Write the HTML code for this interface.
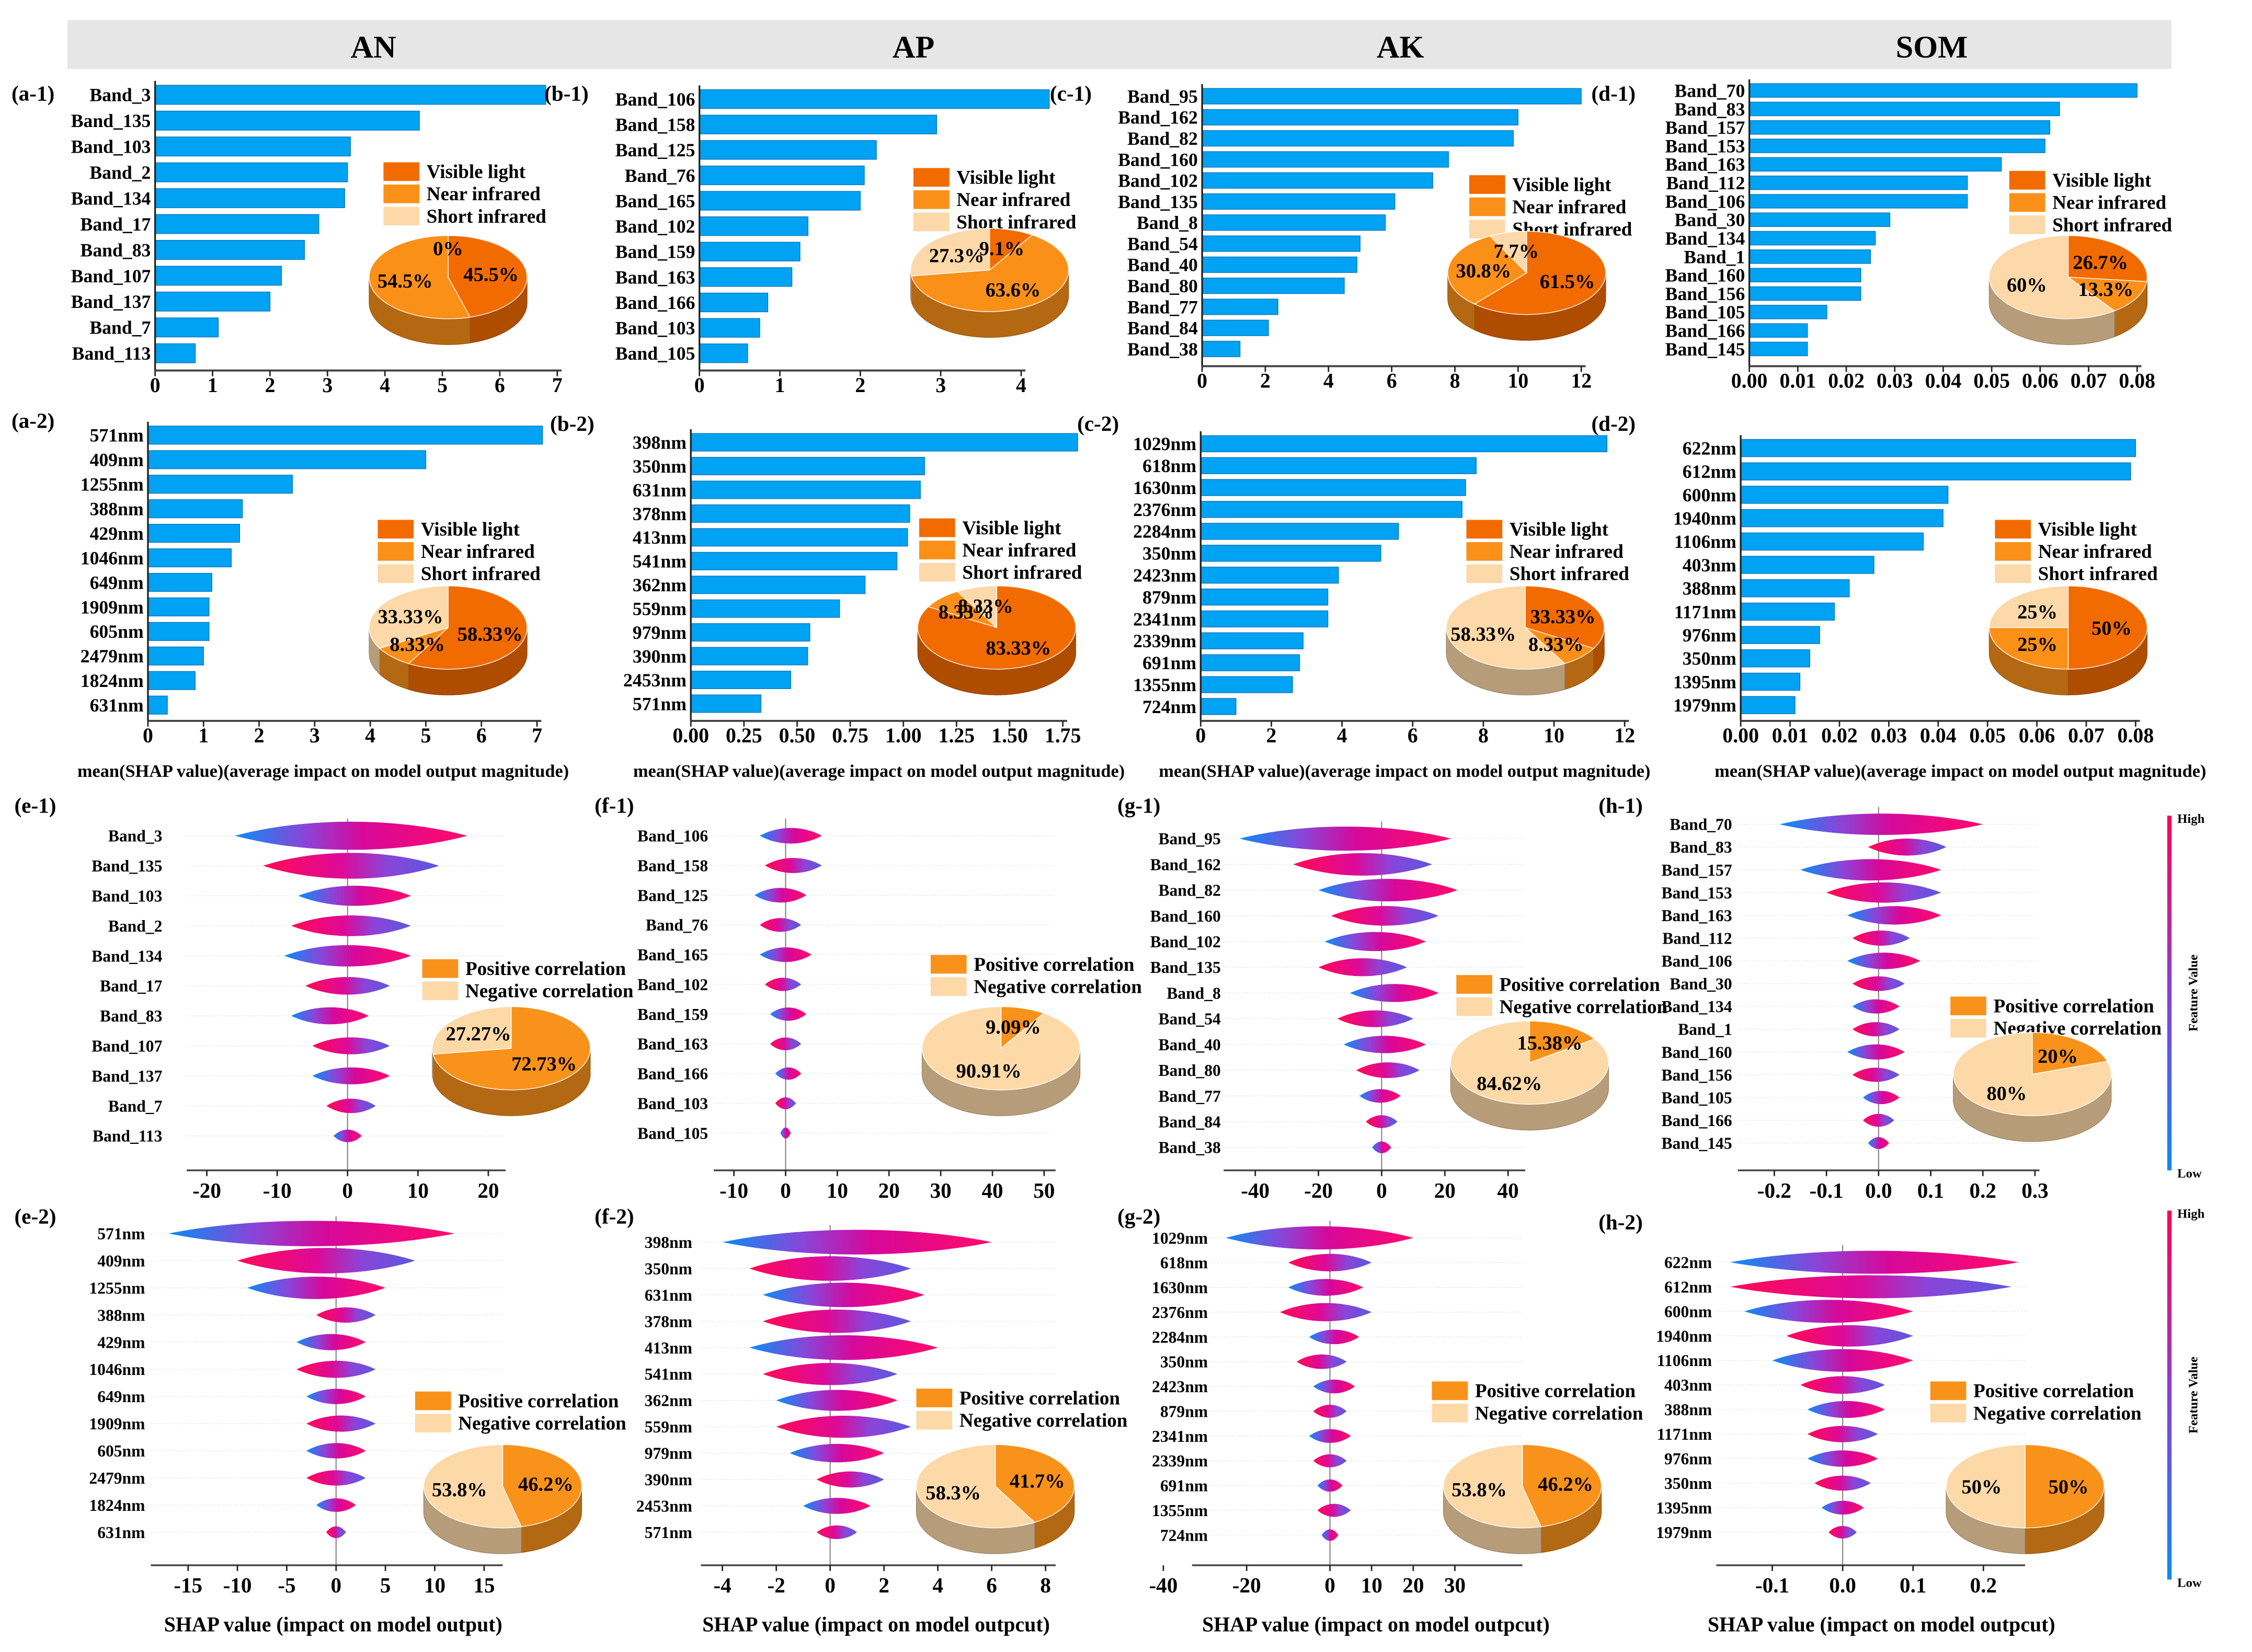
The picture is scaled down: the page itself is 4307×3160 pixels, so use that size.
<!DOCTYPE html>
<html><head><meta charset="utf-8"><style>
html,body{margin:0;padding:0;background:#fff}
svg{display:block}
text{font-family:"Liberation Serif",serif;font-weight:bold;fill:#000}
</style></head><body>
<svg id="fig" width="4307" height="3160" viewBox="0 0 1568 1150.4" xmlns="http://www.w3.org/2000/svg">
<defs>
<linearGradient id="vgA" x1="0" x2="1" y1="0" y2="0"><stop offset="0" stop-color="#0a8cf5"/><stop offset="0.3" stop-color="#8a45d8"/><stop offset="0.55" stop-color="#d6089a"/><stop offset="1" stop-color="#ff0a6a"/></linearGradient>
<linearGradient id="vgB" x1="0" x2="1" y1="0" y2="0"><stop offset="0" stop-color="#ff0a55"/><stop offset="0.45" stop-color="#dd0a98"/><stop offset="0.7" stop-color="#8a45d8"/><stop offset="1" stop-color="#5a58e0"/></linearGradient>
<linearGradient id="cbar" x1="0" x2="0" y1="0" y2="1"><stop offset="0" stop-color="#ff0055"/><stop offset="0.5" stop-color="#8a3fd0"/><stop offset="1" stop-color="#0a8cf5"/></linearGradient>
</defs>
<rect x="47" y="14" width="1465" height="34" fill="#e6e6e6"/>
<text x="260" y="40" font-size="22" text-anchor="middle">AN</text>
<text x="636" y="40" font-size="22" text-anchor="middle">AP</text>
<text x="975" y="40" font-size="22" text-anchor="middle">AK</text>
<text x="1345" y="40" font-size="22" text-anchor="middle">SOM</text>
</svg>
<script>
// ---------- DATA ----------
const a1Labels=["Band_3","Band_135","Band_103","Band_2","Band_134","Band_17","Band_83","Band_107","Band_137","Band_7","Band_113"];
const a1Values=[6.8,4.6,3.4,3.35,3.3,2.85,2.6,2.2,2.0,1.1,0.7];
const a1Ticks=[0,1,2,3,4,5,6,7];
const a1Pie=[45.5,54.5,0];
const a1PieLabels=["45.5%","54.5%","0%"];
const b1Labels=["Band_106","Band_158","Band_125","Band_76","Band_165","Band_102","Band_159","Band_163","Band_166","Band_103","Band_105"];
const b1Values=[4.35,2.95,2.2,2.05,2.0,1.35,1.25,1.15,0.85,0.75,0.6];
const b1Ticks=[0,1,2,3,4];
const b1Pie=[9.1,63.6,27.3];
const b1PieLabels=["9.1%","63.6%","27.3%"];
const c1Labels=["Band_95","Band_162","Band_82","Band_160","Band_102","Band_135","Band_8","Band_54","Band_40","Band_80","Band_77","Band_84","Band_38"];
const c1Values=[12.0,10.0,9.85,7.8,7.3,6.1,5.8,5.0,4.9,4.5,2.4,2.1,1.2];
const c1Ticks=[0,2,4,6,8,10,12];
const c1Pie=[61.5,30.8,7.7];
const c1PieLabels=["61.5%","30.8%","7.7%"];
const d1Labels=["Band_70","Band_83","Band_157","Band_153","Band_163","Band_112","Band_106","Band_30","Band_134","Band_1","Band_160","Band_156","Band_105","Band_166","Band_145"];
const d1Values=[0.080,0.064,0.062,0.061,0.052,0.045,0.045,0.029,0.026,0.025,0.023,0.023,0.016,0.012,0.012];
const d1Ticks=[0,0.01,0.02,0.03,0.04,0.05,0.06,0.07,0.08];
const d1Pie=[26.7,13.3,60];
const d1PieLabels=["26.7%","13.3%","60%"];
const a2Labels=["571nm","409nm","1255nm","388nm","429nm","1046nm","649nm","1909nm","605nm","2479nm","1824nm","631nm"];
const a2Values=[7.1,5.0,2.6,1.7,1.65,1.5,1.15,1.1,1.1,1.0,0.85,0.35];
const a2Ticks=[0,1,2,3,4,5,6,7];
const a2Pie=[58.33,8.33,33.33];
const a2PieLabels=["58.33%","8.33%","33.33%"];
const b2Labels=["398nm","350nm","631nm","378nm","413nm","541nm","362nm","559nm","979nm","390nm","2453nm","571nm"];
const b2Values=[1.82,1.1,1.08,1.03,1.02,0.97,0.82,0.7,0.56,0.55,0.47,0.33];
const b2Ticks=[0,0.25,0.5,0.75,1.0,1.25,1.5,1.75];
const b2Pie=[83.33,8.33,8.33];
const b2PieLabels=["83.33%","8.33%","8.33%"];
const c2Labels=["1029nm","618nm","1630nm","2376nm","2284nm","350nm","2423nm","879nm","2341nm","2339nm","691nm","1355nm","724nm"];
const c2Values=[11.5,7.8,7.5,7.4,5.6,5.1,3.9,3.6,3.6,2.9,2.8,2.6,1.0];
const c2Ticks=[0,2,4,6,8,10,12];
const c2Pie=[33.33,8.33,58.33];
const c2PieLabels=["33.33%","8.33%","58.33%"];
const d2Labels=["622nm","612nm","600nm","1940nm","1106nm","403nm","388nm","1171nm","976nm","350nm","1395nm","1979nm"];
const d2Values=[0.080,0.079,0.042,0.041,0.037,0.027,0.022,0.019,0.016,0.014,0.012,0.011];
const d2Ticks=[0,0.01,0.02,0.03,0.04,0.05,0.06,0.07,0.08];
const d2Pie=[50,25,25];
const d2PieLabels=["50%","25%","25%"];

const e1Lo=[-16,-12,-7,-8,-9,-6,-8,-5,-5,-3,-2];
const e1Hi=[17,13,9,9,9,6,3,6,6,4,2];
const e1Ticks=[-20,-10,0,10,20];
const e1Pie=[72.73,27.27];
const e1PieLabels=["72.73%","27.27%"];
const f1Lo=[-5,-4,-6,-5,-5,-4,-3,-3,-2,-2,-1];
const f1Hi=[7,7,4,3,5,3,4,3,3,2,1];
const f1Ticks=[-10,0,10,20,30,40,50];
const f1Pie=[9.09,90.91];
const f1PieLabels=["9.09%","90.91%"];
const g1Lo=[-45,-28,-20,-16,-18,-20,-10,-14,-12,-8,-7,-5,-3];
const g1Hi=[22,16,24,18,14,8,18,10,14,12,6,5,3];
const g1Ticks=[-40,-20,0,20,40];
const g1Pie=[15.38,84.62];
const g1PieLabels=["15.38%","84.62%"];
const h1Lo=[-0.19,-0.02,-0.15,-0.1,-0.06,-0.05,-0.06,-0.05,-0.05,-0.05,-0.06,-0.05,-0.03,-0.03,-0.02];
const h1Hi=[0.2,0.13,0.12,0.12,0.12,0.06,0.08,0.05,0.04,0.04,0.05,0.04,0.04,0.03,0.02];
const h1Ticks=[-0.2,-0.1,0,0.1,0.2,0.3];
const h1Pie=[20,80];
const h1PieLabels=["20%","80%"];
const e2Lo=[-17,-10,-9,-2,-4,-4,-3,-3,-3,-3,-2,-1];
const e2Hi=[12,8,5,4,3,4,3,4,3,3,2,1];
const e2Ticks=[-15,-10,-5,0,5,10,15];
const e2Pie=[46.2,53.8];
const e2PieLabels=["46.2%","53.8%"];
const f2Lo=[-4,-3,-2.5,-2.5,-3,-2.5,-2,-2,-1.5,-0.5,-1,-0.5];
const f2Hi=[6,3,3.5,3,4,2.5,2.5,3,2,2,1.5,1];
const f2Ticks=[-4,-2,0,2,4,6,8];
const f2Pie=[41.7,58.3];
const f2PieLabels=["41.7%","58.3%"];
const g2Lo=[-25,-10,-10,-12,-5,-8,-4,-4,-5,-4,-3,-3,-2];
const g2Hi=[20,10,8,10,7,4,6,4,5,4,3,5,2];
const g2Ticks=[-40,-20,0,10,20,30];
const g2Pie=[46.2,53.8];
const g2PieLabels=["46.2%","53.8%"];
const h2Lo=[-0.16,-0.16,-0.14,-0.08,-0.1,-0.06,-0.05,-0.05,-0.05,-0.04,-0.03,-0.02];
const h2Hi=[0.25,0.24,0.1,0.1,0.1,0.06,0.06,0.05,0.05,0.04,0.03,0.02];
const h2Ticks=[-0.1,0,0.1,0.2];
const h2Pie=[50,50];
const h2PieLabels=["50%","50%"];

// ---------- DRAW ----------
const NS="http://www.w3.org/2000/svg";
const svg=document.getElementById("fig");
function mk(tag,attrs,parent,txt){const e=document.createElementNS(NS,tag);for(const k in attrs)e.setAttribute(k,attrs[k]);if(txt!==undefined)e.textContent=txt;(parent||svg).appendChild(e);return e;}
function grp(name){const g=mk("g",{});


return g;}
function txt(g,x,y,s,size,anchor,name){const t=mk("text",{x:x,y:y,"font-size":size,"text-anchor":anchor||"start"},g,s);


return t;}
function shade(hex,f){const n=parseInt(hex.slice(1),16);const r=Math.round(((n>>16)&255)*f),g=Math.round(((n>>8)&255)*f),b=Math.round((n&255)*f);return "rgb("+r+","+g+","+b+")";}
const C3=["#f26b00","#fb9019","#fdd8a8"];
const C2=["#f8921b","#fdd9a8"];

function pie(g,cx,cy,vals,labels,cols){
  const rx=55,ry=29,d=18;const tot=vals.reduce((a,b)=>a+b,0);
  const P=(a,dy)=>[cx+rx*Math.cos(a),cy+ry*Math.sin(a)+(dy||0)];
  let a=-Math.PI/2;const segs=[];
  vals.forEach((v,i)=>{const a1=a+v/tot*2*Math.PI;segs.push([a,a1,i]);a=a1;});
  segs.forEach(([a0,a1,i])=>{const s=Math.max(a0,0),e=Math.min(a1,Math.PI);if(e<=s)return;
    const p0=P(s),p1=P(e),q0=P(s,d),q1=P(e,d);
    const p=mk("path",{d:`M${p0} A${rx} ${ry} 0 0 1 ${p1} L${q1} A${rx} ${ry} 0 0 0 ${q0} Z`,fill:shade(cols[i],0.72),stroke:shade(cols[i],0.6),"stroke-width":0.4},g);
    
    });
  segs.forEach(([a0,a1,i])=>{if(a1-a0<1e-6)return;const p0=P(a0),p1=P(a1);const lg=(a1-a0)>Math.PI?1:0;
    const p=mk("path",{d:`M${cx},${cy} L${p0} A${rx} ${ry} 0 ${lg} 1 ${p1} Z`,fill:cols[i],stroke:"#fff","stroke-width":0.5},g);
    
    });
  segs.forEach(([a0,a1,i])=>{const m=(a0+a1)/2;const r=(a1-a0)<0.01?0.7:0.55;
    txt(g,cx+rx*r*Math.cos(m),cy+ry*r*Math.sin(m)+5,labels[i],14,"middle","pie-label");});
}
function legend(g,x,y,names,cols){names.forEach((n,i)=>{const r=mk("rect",{x:x,y:y+i*15.5-10,width:25,height:13,fill:cols[i]},g);
  
  
  txt(g,x+30,y+i*15.5+1,n,13.5,"start","legend-entry");});}
function fmt(v,dec){return dec?v.toFixed(dec):String(v);}

function barPanel(p){
  const g=grp(p.name);
  const n=p.labels.length,sp=(p.yLast-p.yFirst)/(n-1),bh=sp*0.74;
  const X=v=>p.x0+v*p.ppu, Y=i=>p.yFirst+i*sp;
  p.values.forEach((v,i)=>{const r=mk("rect",{x:X(0),y:Y(i)-bh/2,width:X(v)-X(0),height:bh,fill:"#00a2f4",stroke:"#0d78b8","stroke-width":0.5},g);
    
    
    txt(g,X(0)-3,Y(i)+4.5,p.labels[i],13,"end","y-tick-label");});
  mk("line",{x1:X(0),x2:X(0),y1:Y(0)-bh/2-3,y2:p.axisY,stroke:"#222","stroke-width":1.2},g);
  const last=p.ticks[p.ticks.length-1];
  mk("line",{x1:X(0),x2:X(last)+3,y1:p.axisY,y2:p.axisY,stroke:"#444","stroke-width":1.4},g);
  p.ticks.forEach(t=>{mk("line",{x1:X(t),x2:X(t),y1:p.axisY,y2:p.axisY+4,stroke:"#222","stroke-width":1},g);
    txt(g,X(t),p.axisY+15,fmt(t,p.dec),14.5,"middle","x-tick-label");});
  txt(g,p.tagX,p.tagY,p.tag,15,"start","panel-label");
  legend(g,p.lx,p.ly,["Visible light","Near infrared","Short infrared"],C3);
  pie(g,p.px,p.py,p.pie,p.pieLabels,C3);
}
function violinPanel(p){
  const g=grp(p.name);
  const n=p.labels.length,sp=(p.yLast-p.yFirst)/(n-1);
  const X=v=>p.x0+v*p.ppu, Y=i=>p.yFirst+i*sp;
  p.labels.forEach((l,i)=>{mk("line",{x1:p.ax0,x2:p.ax1,y1:Y(i),y2:Y(i),stroke:"#e6e6e6","stroke-width":0.5,"stroke-dasharray":"1 1"},g);});
  mk("line",{x1:X(0),x2:X(0),y1:Y(0)-12,y2:p.axisY,stroke:"#888","stroke-width":0.8},g);
  p.labels.forEach((l,i)=>{const xl=X(p.lo[i]),xr=X(p.hi[i]),w=xr-xl,y=Y(i);
    const hh=Math.min(sp*0.47,3.5+w*0.045)*1.33;
    const pth=mk("path",{d:`M${xl},${y} C${xl+w*0.3},${y-hh} ${xr-w*0.3},${y-hh} ${xr},${y} C${xr-w*0.3},${y+hh} ${xl+w*0.3},${y+hh} ${xl},${y} Z`,fill:i%2?"url(#vgB)":"url(#vgA)"},g);
    
    
    txt(g,p.labelX,y+4,l,11.5,"end","y-tick-label");});
  mk("line",{x1:p.ax0,x2:p.ax1,y1:p.axisY,y2:p.axisY,stroke:"#444","stroke-width":1.2},g);
  p.ticks.forEach(t=>{mk("line",{x1:X(t),x2:X(t),y1:p.axisY,y2:p.axisY+4,stroke:"#222","stroke-width":1},g);
    txt(g,X(t),p.axisY+19,fmt(t,p.dec),15,"middle","x-tick-label");});
  txt(g,p.tagX,p.tagY,p.tag,15,"start","panel-label");
  legend(g,p.lx,p.ly,["Positive correlation","Negative correlation"],C2);
  pie(g,p.px,p.py,p.pie,p.pieLabels,C2);
}
barPanel({name:"panel-a1",labels:a1Labels,values:a1Values,ticks:a1Ticks,pie:a1Pie,pieLabels:a1PieLabels,x0:108,ppu:40,yFirst:66,yLast:246,axisY:258,tag:"(a-1)",tagX:8,tagY:70,lx:267,ly:123,px:312,py:193});
barPanel({name:"panel-b1",labels:b1Labels,values:b1Values,ticks:b1Ticks,pie:b1Pie,pieLabels:b1PieLabels,x0:487,ppu:56,yFirst:69,yLast:246,axisY:258,tag:"(b-1)",tagX:379,tagY:70,lx:636,ly:127,px:689,py:188});
barPanel({name:"panel-c1",labels:c1Labels,values:c1Values,ticks:c1Ticks,pie:c1Pie,pieLabels:c1PieLabels,x0:837,ppu:22,yFirst:67,yLast:243,axisY:255,tag:"(c-1)",tagX:731,tagY:70,lx:1023,ly:132,px:1063,py:190});
barPanel({name:"panel-d1",labels:d1Labels,values:d1Values,ticks:d1Ticks,dec:2,pie:d1Pie,pieLabels:d1PieLabels,x0:1218,ppu:3375,yFirst:63,yLast:243,axisY:255,tag:"(d-1)",tagX:1108,tagY:70,lx:1399,ly:129,px:1440,py:193});
barPanel({name:"panel-a2",labels:a2Labels,values:a2Values,ticks:a2Ticks,pie:a2Pie,pieLabels:a2PieLabels,x0:103,ppu:38.7,yFirst:303,yLast:491,axisY:502,tag:"(a-2)",tagX:8,tagY:298,lx:263,ly:372,px:312,py:437});
barPanel({name:"panel-b2",labels:b2Labels,values:b2Values,ticks:b2Ticks,dec:2,pie:b2Pie,pieLabels:b2PieLabels,x0:481,ppu:148,yFirst:308,yLast:490,axisY:502,tag:"(b-2)",tagX:383,tagY:300,lx:640,ly:371,px:694,py:437});
barPanel({name:"panel-c2",labels:c2Labels,values:c2Values,ticks:c2Ticks,pie:c2Pie,pieLabels:c2PieLabels,x0:836,ppu:24.6,yFirst:309,yLast:492,axisY:502,tag:"(c-2)",tagX:750,tagY:300,lx:1021,ly:372,px:1062,py:437});
barPanel({name:"panel-d2",labels:d2Labels,values:d2Values,ticks:d2Ticks,dec:2,pie:d2Pie,pieLabels:d2PieLabels,x0:1212,ppu:3437,yFirst:312,yLast:491,axisY:502,tag:"(d-2)",tagX:1108,tagY:300,lx:1389,ly:372,px:1440,py:437});
violinPanel({name:"panel-e1",labels:a1Labels,lo:e1Lo,hi:e1Hi,ticks:e1Ticks,pie:e1Pie,pieLabels:e1PieLabels,x0:242,ppu:4.9,yFirst:582,yLast:791,axisY:815,ax0:130,ax1:352,labelX:113,tag:"(e-1)",tagX:10,tagY:566,lx:294,ly:678,px:356,py:730});
violinPanel({name:"panel-f1",labels:b1Labels,lo:f1Lo,hi:f1Hi,ticks:f1Ticks,pie:f1Pie,pieLabels:f1PieLabels,x0:547,ppu:3.6,yFirst:582,yLast:789,axisY:815,ax0:497,ax1:735,labelX:493,tag:"(f-1)",tagX:414,tagY:566,lx:648,ly:675,px:697,py:730});
violinPanel({name:"panel-g1",labels:c1Labels,lo:g1Lo,hi:g1Hi,ticks:g1Ticks,pie:g1Pie,pieLabels:g1PieLabels,x0:962,ppu:2.2,yFirst:584,yLast:799,axisY:815,ax0:852,ax1:1062,labelX:850,tag:"(g-1)",tagX:778,tagY:566,lx:1014,ly:689,px:1065,py:740});
violinPanel({name:"panel-h1",labels:d1Labels,lo:h1Lo,hi:h1Hi,ticks:h1Ticks,dec:1,pie:h1Pie,pieLabels:h1PieLabels,x0:1308,ppu:363,yFirst:574,yLast:796,axisY:815,ax0:1210,ax1:1420,labelX:1206,tag:"(h-1)",tagX:1113,tagY:566,lx:1358,ly:704,px:1415,py:748});
violinPanel({name:"panel-e2",labels:a2Labels,lo:e2Lo,hi:e2Hi,ticks:e2Ticks,pie:e2Pie,pieLabels:e2PieLabels,x0:234,ppu:6.87,yFirst:859,yLast:1067,axisY:1090,ax0:105,ax1:350,labelX:101,tag:"(e-2)",tagX:10,tagY:852,lx:289,ly:979,px:350,py:1035});
violinPanel({name:"panel-f2",labels:b2Labels,lo:f2Lo,hi:f2Hi,ticks:f2Ticks,pie:f2Pie,pieLabels:f2PieLabels,x0:578,ppu:18.75,yFirst:865,yLast:1067,axisY:1090,ax0:488,ax1:735,labelX:482,tag:"(f-2)",tagX:414,tagY:852,lx:638,ly:977,px:693,py:1035});
violinPanel({name:"panel-g2",labels:c2Labels,lo:g2Lo,hi:g2Hi,ticks:g2Ticks,pie:g2Pie,pieLabels:g2PieLabels,x0:926,ppu:2.9,yFirst:862,yLast:1069,axisY:1090,ax0:830,ax1:1060,labelX:841,tag:"(g-2)",tagX:778,tagY:852,lx:997,ly:972,px:1060,py:1035});
violinPanel({name:"panel-h2",labels:d2Labels,lo:h2Lo,hi:h2Hi,ticks:h2Ticks,dec:1,pie:h2Pie,pieLabels:h2PieLabels,x0:1283,ppu:490,yFirst:879,yLast:1067,axisY:1090,ax0:1195,ax1:1410,labelX:1192,tag:"(h-2)",tagX:1113,tagY:856,lx:1344,ly:972,px:1410,py:1035});

// axis titles
const mx=[225,612,978,1365];
mx.forEach(x=>{txt(svg,x,541,"mean(SHAP value)(average impact on model output magnitude)",12.5,"middle","x-axis-title");});
const sx=[232,610,958,1310];
const st=["SHAP value (impact on model output)","SHAP value (impact on model outpcut)","SHAP value (impact on model outpcut)","SHAP value (impact on model outpcut)"];
sx.forEach((x,i)=>{txt(svg,x,1136,st[i],14.5,"middle","x-axis-title");});
// colorbars
[[568,815],[843,1100]].forEach(([y0,y1])=>{
  const r=mk("rect",{x:1509,y:y0,width:3,height:y1-y0,fill:"url(#cbar)"});
  
  
  txt(svg,1516,y0+5,"High",9,"start","colorbar-high");
  txt(svg,1516,y1+5,"Low",9,"start","colorbar-low");
  const t=txt(svg,0,0,"Feature Value",9,"middle","colorbar-title");
  t.setAttribute("transform",`translate(1530,${(y0+y1)/2}) rotate(-90)`);
});
</script>
</body></html>
